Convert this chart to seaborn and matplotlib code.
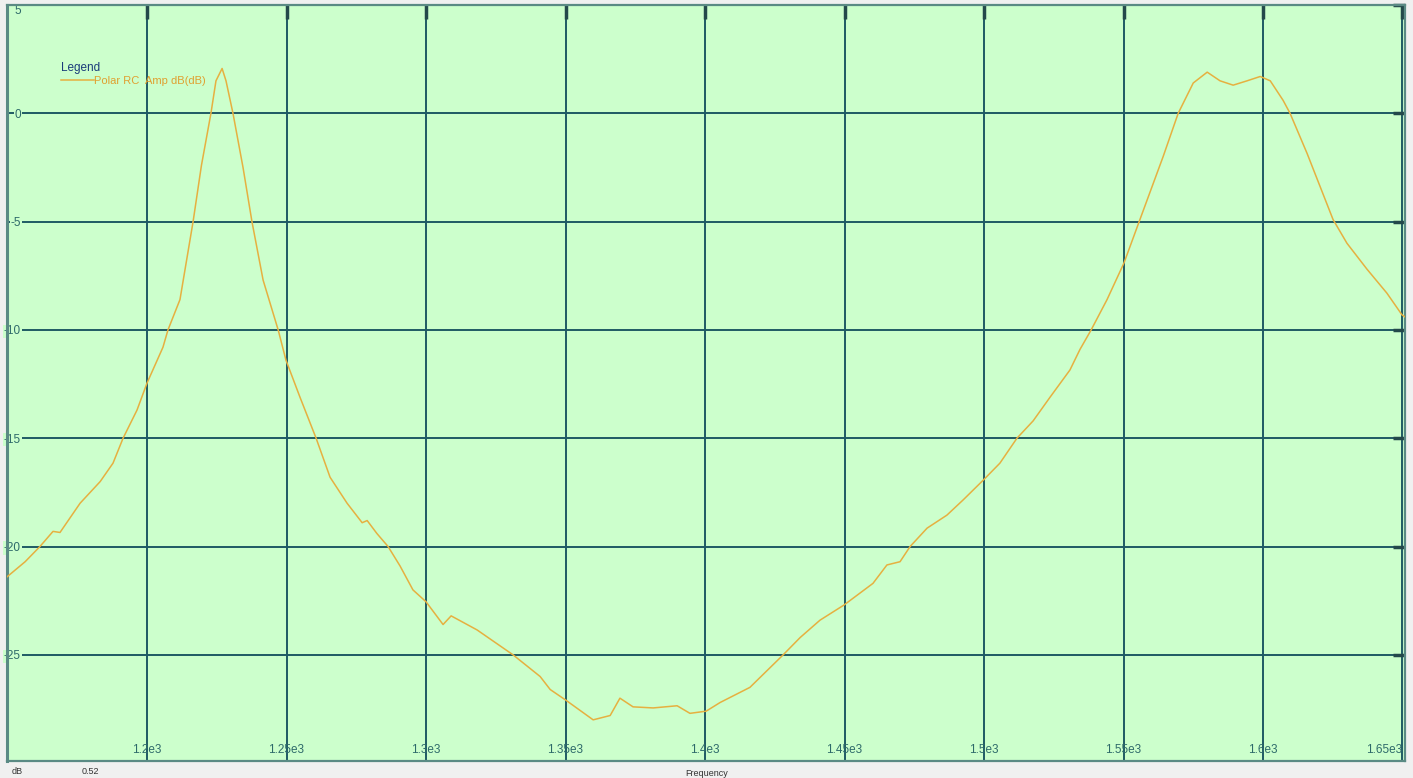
import numpy as np
import pandas as pd
import matplotlib
matplotlib.use("Agg")
import matplotlib.pyplot as plt
import seaborn as sns

# -----------------------------
# DATA
# -----------------------------
freq = [1149.8, 1156.3, 1161.6, 1166.3, 1168.8, 1176.0, 1183.2, 1187.8, 1191.4, 1196.4,
        1200.0, 1205.7, 1207.5, 1211.8, 1216.5, 1219.5, 1222.9, 1224.7, 1226.9, 1228.3,
        1230.8, 1234.4, 1237.6, 1241.6, 1247.0, 1249.8, 1254.8, 1260.6, 1265.6, 1271.7,
        1277.1, 1278.9, 1282.4, 1286.4, 1290.7, 1295.3, 1300.0, 1306.1, 1309.0, 1318.3,
        1331.2, 1340.9, 1344.5, 1350.2, 1359.9, 1366.0, 1369.5, 1374.2, 1381.4, 1390.0,
        1394.6, 1400.4, 1405.4, 1416.1, 1428.0, 1434.1, 1441.2, 1449.8, 1460.2, 1465.2,
        1469.9, 1473.5, 1479.6, 1486.7, 1492.5, 1500.0, 1505.7, 1511.8, 1517.6, 1523.7,
        1530.8, 1534.4, 1538.4, 1544.1, 1550.2, 1555.9, 1564.2, 1569.6, 1575.0, 1580.0,
        1584.6, 1589.3, 1594.3, 1599.0, 1602.6, 1607.2, 1609.7, 1615.8, 1625.1, 1630.1,
        1637.3, 1644.4, 1649.8, 1650.9]
amp_db = [-21.4, -20.7, -20.0, -19.3, -19.35, -18.0, -17.0, -16.15, -15.0, -13.7,
          -12.45, -10.8, -10.0, -8.6, -5.0, -2.4, 0.0, 1.5, 2.07, 1.5,
          0.0, -2.5, -5.0, -7.7, -10.0, -11.4, -13.1, -15.0, -16.8, -18.0,
          -18.9, -18.8, -19.4, -20.0, -20.9, -22.0, -22.55, -23.6, -23.2, -23.85,
          -25.0, -26.0, -26.6, -27.1, -28.0, -27.8, -27.0, -27.4, -27.45, -27.35,
          -27.7, -27.6, -27.2, -26.5, -25.0, -24.2, -23.4, -22.7, -21.7, -20.85,
          -20.7, -20.0, -19.15, -18.55, -17.85, -16.9, -16.15, -15.0, -14.2, -13.1,
          -11.85, -10.9, -10.0, -8.6, -6.9, -4.9, -2.0, 0.0, 1.4, 1.9,
          1.5, 1.3, 1.5, 1.7, 1.5, 0.6, 0.0, -1.85, -4.9, -6.0,
          -7.2, -8.3, -9.3, -9.4]

x_ticks = [1200, 1250, 1300, 1350, 1400, 1450, 1500, 1550, 1600, 1650]
x_tick_labels = ["1.2e3", "1.25e3", "1.3e3", "1.35e3", "1.4e3", "1.45e3",
                 "1.5e3", "1.55e3", "1.6e3", "1.65e3"]
y_ticks = [5, 0, -5, -10, -15, -20, -25]
y_tick_labels = ["5", "0", "-5", "-10", "-15", "-20", "-25"]

series_label = "Polar RC  Amp dB(dB)"

df = pd.DataFrame({"Frequency": freq, "dB": amp_db})

# -----------------------------
# STYLE
# -----------------------------
bg = "#ccffcc"
grid_col = "#1f5a64"
tick_col = "#2e6a6a"
line_col = "#e6b040"

plt.rcParams["font.family"] = ["Liberation Sans", "DejaVu Sans"]

fig = plt.figure(figsize=(14.13, 7.78), dpi=100, facecolor="#f0f0f0")
ax = fig.add_axes([7 / 1413, 1 - 761 / 778, 1398 / 1413, 756 / 778])
ax.set_facecolor(bg)

sns.lineplot(data=df, x="Frequency", y="dB", ax=ax, color=line_col,
             linewidth=1.1, label=series_label, zorder=3)

ax.set_xlim(1149.8, 1650.9)
ax.set_ylim(-29.9, 5.0)

ax.set_xticks(x_ticks)
ax.set_xticklabels(x_tick_labels)
ax.set_yticks(y_ticks)
ax.set_yticklabels(y_tick_labels)

ax.grid(True, color=grid_col, linewidth=1.4, zorder=1)
ax.set_axisbelow(True)

# labels inside the plot, inward tick marks on top/right
ax.tick_params(axis="x", bottom=False, top=True, direction="in", length=10,
               width=2.5, color="#23484a", pad=-12, labelsize=8.5,
               labelcolor=tick_col)
ax.tick_params(axis="y", left=False, right=True, direction="in", length=9,
               width=2.5, color="#23484a", pad=-10, labelsize=8.5,
               labelcolor=tick_col)
for lab in ax.get_yticklabels():
    lab.set_bbox(dict(facecolor=bg, edgecolor="none", pad=0.5))
# the top "5" sits just under the border, the last x label is kept inside
ax.get_yticklabels()[0].set_verticalalignment("top")
ax.get_xticklabels()[-1].set_horizontalalignment("right")

for s in ax.spines.values():
    s.set_color("#5a8a84")
    s.set_linewidth(1.6)
ax.spines["left"].set_linewidth(2.2)

ax.set_xlabel("")
ax.set_ylabel("")

leg = ax.legend(loc="upper left", bbox_to_anchor=(46 / 1398, 1 - 49 / 756),
                frameon=False, title="Legend", alignment="left",
                fontsize=8, title_fontsize=8.5, handlelength=3.0,
                handletextpad=0.0, borderpad=0.2, labelspacing=0.2)
leg.get_title().set_color("#1a3c7a")
for t in leg.get_texts():
    t.set_color("#e0a030")

# bottom strip texts
fig.text(12 / 1413, 1 - 771 / 778, "dB", fontsize=6.5, color="#333333", va="center")
fig.text(82 / 1413, 1 - 771 / 778, "0.52", fontsize=6.5, color="#333333", va="center")
fig.text(707 / 1413, 1 - 773 / 778, "Frequency", fontsize=6.5, color="#333333",
         va="center", ha="center")

plt.savefig("out.png", dpi=100, facecolor=fig.get_facecolor())
